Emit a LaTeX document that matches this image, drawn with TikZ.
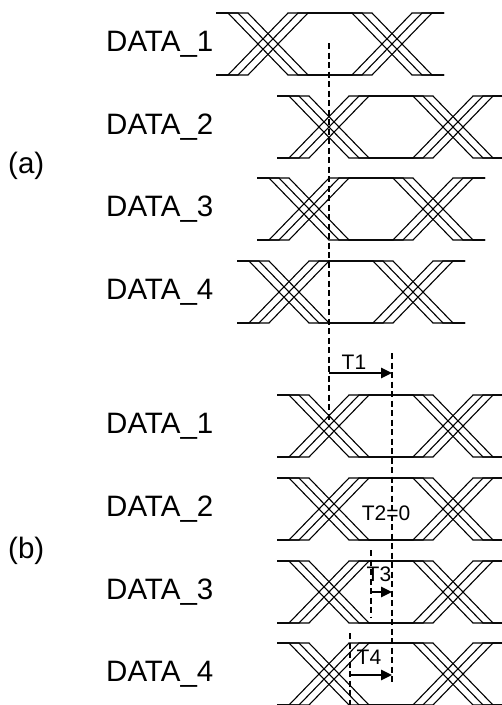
\documentclass[tikz,border=0pt]{standalone}
\usepackage{fontspec}
\setmainfont{Liberation Sans}
\usetikzlibrary{arrows.meta}

\begin{document}
\begin{tikzpicture}[x=1pt, y=-1pt,
    eye/.style={line width=1.1pt},
    skew/.style={line width=2pt, dash pattern=on 6pt off 3.5pt},
    delay/.style={line width=2.5pt, -{Triangle[length=11pt, width=10pt]}},
    lbl/.style={font=\fontsize{29.5}{31}\selectfont, anchor=west, inner sep=0pt},
    tlbl/.style={font=\fontsize{21}{22}\selectfont, inner sep=1pt}]
  \useasboundingbox (0,0) rectangle (502,705);

  % eye patterns: crossing centre / top edge / right end
  \foreach \c/\t/\e in {268/13/444, 329/96/502, 309/178/485, 289/261/465,
                        329/395/502, 329/478/502, 329/561/502, 329/643/502}
    \foreach \o in {-10,0,10} {
      \draw[eye] ({\c-52},\t) -- ({\c-30+\o},\t) -- ({\c+30+\o},{\t+62}) -- ({\c+94+\o},{\t+62}) -- ({\c+154+\o},\t) -- (\e,\t);
      \draw[eye] ({\c-52},{\t+62}) -- ({\c-30+\o},{\t+62}) -- ({\c+30+\o},\t) -- ({\c+94+\o},\t) -- ({\c+154+\o},{\t+62}) -- (\e,{\t+62});
    }

  % (a) skewed
  \node[lbl] (pa) at (8,166) {(a)};
  \node[lbl] (a1) at (106,44) {DATA\_1};
  \node[lbl] (a2) at (106,127) {DATA\_2};
  \node[lbl] (a3) at (106,209) {DATA\_3};
  \node[lbl] (a4) at (106,292) {DATA\_4};

  % (b) deskewed
  \node[lbl] (pb) at (8,551) {(b)};
  \node[lbl] (b1) at (106,426) {DATA\_1};
  \node[lbl] (b2) at (106,509) {DATA\_2};
  \node[lbl] (b3) at (106,592) {DATA\_3};
  \node[lbl] (b4) at (106,674) {DATA\_4};

  % skew markers
  \coordinate (s0) at (329,43);
  \coordinate (s0e) at (329,420);
  \coordinate (s1) at (392,353);
  \coordinate (s1e) at (392,683);
  \coordinate (s3) at (371,550);
  \coordinate (s3e) at (371,618);
  \coordinate (s4) at (350,633);
  \coordinate (s4e) at (350,712);
  \draw[skew] (s0) edge (s0e);
  \draw[skew] (s1) edge (s1e);
  \draw[skew] (s3) edge (s3e);
  \draw[skew] (s4) edge (s4e);

  \coordinate (d1) at (329,373);
  \coordinate (d3) at (371,592);
  \coordinate (d4) at (350,675);
  \draw[delay] (d1) -- (d1 -| s1);
  \draw[delay] (d3) -- (d3 -| s1);
  \draw[delay] (d4) -- (d4 -| s1);

  \node[tlbl] (t1) at (354,362) {T1};
  \node[tlbl] (t2) at (386,513) {T2=0};
  \node[tlbl] (t3) at (379,574) {T3};
  \node[tlbl] (t4) at (369,657) {T4};
\end{tikzpicture}
\end{document}
